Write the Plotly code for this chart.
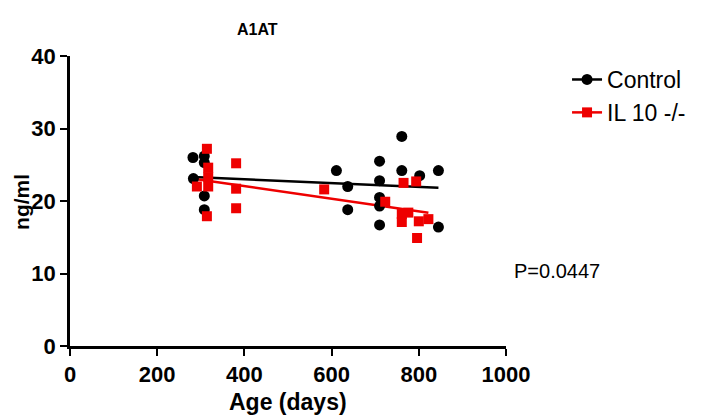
import numpy as np
import plotly.graph_objects as go

# Control (black circles)
ctrl_age = [282, 308, 308, 283, 308, 308, 611, 637, 637, 710, 710, 710, 710, 710, 761, 761, 802, 845, 845]
ctrl_val = [26.0, 26.2, 25.3, 23.1, 20.7, 18.8, 24.2, 22.0, 18.8, 25.5, 22.8, 20.5, 19.3, 16.7, 28.9, 24.2, 23.5, 24.2, 16.4]

# IL 10 -/- (red squares)
il_age = [314, 317, 317, 291, 317, 314, 381, 381, 381, 583, 723, 765, 794, 761, 776, 761, 800, 822, 796]
il_val = [27.2, 24.6, 23.3, 22.0, 22.0, 17.9, 25.2, 21.7, 19.0, 21.6, 19.9, 22.5, 22.7, 18.2, 18.4, 17.1, 17.2, 17.5, 14.9]

x_ticks = [0, 200, 400, 600, 800, 1000]
y_ticks = [0, 10, 20, 30, 40]
p_text = "P=0.0447"

FONT = "Liberation Sans, Arial, sans-serif"

def fit_line(xs, ys):
    xs = np.array(xs, float)
    ys = np.array(ys, float)
    m, b = np.polyfit(xs, ys, 1)
    xx = np.array([xs.min(), xs.max()])
    return xx, m * xx + b

fig = go.Figure()

cx, cy = fit_line(ctrl_age, ctrl_val)
ix, iy = fit_line(il_age, il_val)

RED = "#ee0000"
fig.add_trace(go.Scatter(x=cx, y=cy, mode="lines", line=dict(color="black", width=2.5),
                         showlegend=False, hoverinfo="skip"))
fig.add_trace(go.Scatter(x=ix, y=iy, mode="lines", line=dict(color=RED, width=2.5),
                         showlegend=False, hoverinfo="skip"))
fig.add_trace(go.Scatter(x=ctrl_age, y=ctrl_val, mode="markers",
                         marker=dict(symbol="circle", size=11, color="black"),
                         showlegend=False))
fig.add_trace(go.Scatter(x=il_age, y=il_val, mode="markers",
                         marker=dict(symbol="square", size=10, color=RED),
                         showlegend=False))
# legend entries
fig.add_trace(go.Scatter(x=[None], y=[None], mode="lines+markers", name="Control",
                         line=dict(color="black", width=2.5),
                         marker=dict(symbol="circle", size=11, color="black")))
fig.add_trace(go.Scatter(x=[None], y=[None], mode="lines+markers", name="IL 10 -/-",
                         line=dict(color=RED, width=2.5),
                         marker=dict(symbol="square", size=10, color=RED)))

axis_common = dict(showline=True, linecolor="black", linewidth=2.5, ticks="outside",
                   ticklen=7, tickwidth=2, tickcolor="black", showgrid=False, zeroline=False,
                   automargin=False,
                   tickfont=dict(family=FONT, size=22, color="black", weight="bold"))

fig.update_xaxes(range=[0, 1000], tickvals=x_ticks, ticktext=[str(v) for v in x_ticks],
                 **axis_common)
fig.update_yaxes(range=[0, 40], tickvals=y_ticks, ticktext=[str(v) for v in y_ticks],
                 **axis_common)

bold = dict(family=FONT, color="black", weight="bold")
fig.add_annotation(text="A1AT", xref="paper", yref="paper", x=0.431, y=1.09,
                   showarrow=False, xanchor="center", yanchor="middle",
                   font=dict(size=16, **bold))
fig.add_annotation(text="ng/ml", xref="paper", yref="paper", x=-0.110, y=0.497,
                   showarrow=False, xanchor="center", yanchor="middle", textangle=-90,
                   borderpad=0, font=dict(size=21, **bold))
fig.add_annotation(text="Age (days)", xref="paper", yref="paper", x=0.5, y=-0.193,
                   showarrow=False, xanchor="center", yanchor="middle",
                   font=dict(size=23, **bold))
fig.add_annotation(text=p_text, xref="paper", yref="paper", x=1.014, y=0.259,
                   showarrow=False, xanchor="left", yanchor="middle",
                   font=dict(family=FONT, size=20, color="black"))

fig.update_layout(
    width=700, height=412,
    margin=dict(l=62, r=202, t=48, b=74, autoexpand=False),
    plot_bgcolor="white", paper_bgcolor="white",
    legend=dict(x=1.14, y=0.993, xanchor="left", yanchor="top",
                font=dict(family=FONT, size=23, color="black"),
                tracegroupgap=0, itemwidth=30, bgcolor="rgba(0,0,0,0)"),
)

fig.write_html("out.html")
